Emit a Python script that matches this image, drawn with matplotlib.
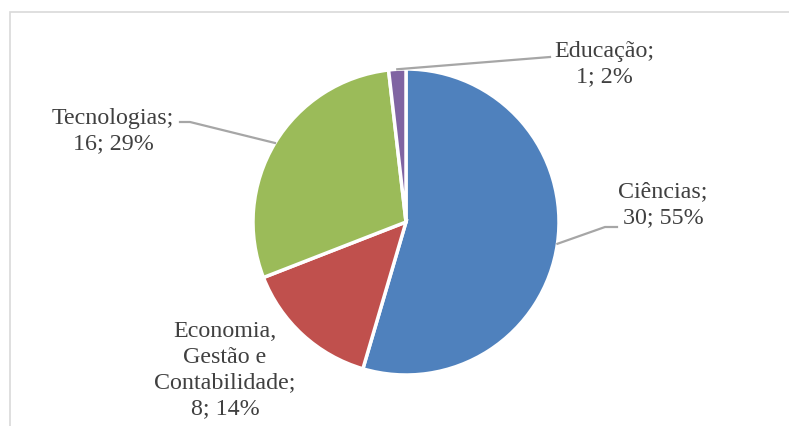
import matplotlib.pyplot as plt
import numpy as np
from matplotlib.patches import Rectangle

# areas and counts
areas = ['Ciências', 'Economia,\nGestão e\nContabilidade', 'Tecnologias', 'Educação']
counts = [30, 8, 16, 1]
percents = [55, 14, 29, 2]
colors = ['#4F81BD', '#C0504D', '#9BBB59', '#8064A2']

W, H = 789, 426
fig = plt.figure(figsize=(W / 100, H / 100), dpi=100)
ax = fig.add_axes([0, 0, 1, 1])

# outer chart frame
ax.add_patch(Rectangle((10, -20), 800, H - 12 + 20, fill=False,
                       edgecolor='#D9D9D9', linewidth=1.2, clip_on=False))

cx, cy, r = 406, H - 222, 153
wedges, _ = ax.pie(counts, colors=colors, startangle=90, counterclock=False,
                   center=(cx, cy), radius=r, frame=True,
                   wedgeprops=dict(edgecolor='white', linewidth=2.5))
ax.set_xlim(0, W)
ax.set_ylim(0, H)
ax.set_aspect('equal')
ax.axis('off')

font = dict(family='Liberation Serif', size=17.3, color='#404040',
            ha='center', va='center', linespacing=1.3)
line_kw = dict(color='#A6A6A6', linewidth=1.6)

# label centre, and leader line path (None where no leader)
label_pos = [(663, H - 205), (225, H - 370), (113, H - 131), (604, H - 64)]
leaders = [
    [(605, H - 227), (617, H - 227)],
    None,
    [(190, H - 122), (180, H - 122)],
    [(550, H - 57)],
]

for w, name, n, p, pos, path in zip(wedges, areas, counts, percents, label_pos, leaders):
    ax.text(pos[0], pos[1], f'{name};\n{n}; {p}%', **font)
    if path is None:
        continue
    # leader starts at the middle of the wedge's arc
    ang = np.deg2rad((w.theta1 + w.theta2) / 2)
    sx = cx + r * np.cos(ang)
    sy = cy + r * np.sin(ang)
    xs = [sx] + [q[0] for q in path]
    ys = [sy] + [q[1] for q in path]
    ax.plot(xs, ys, **line_kw)

fig.savefig('out.png', dpi=100, facecolor='white')
